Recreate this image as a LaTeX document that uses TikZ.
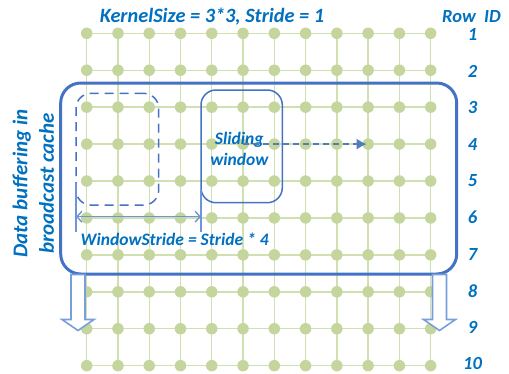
\documentclass[tikz,border=0pt]{standalone}
\usepackage{fontspec}
\setmainfont{Carlito}
\usepackage{xcolor}
\usetikzlibrary{arrows.meta}
\definecolor{txtblue}{RGB}{0,112,192}
\definecolor{boxblue}{RGB}{68,114,196}
\definecolor{lightblue}{RGB}{120,158,220}
\definecolor{slateblue}{RGB}{80,125,190}
\definecolor{gridgreen}{RGB}{196,214,158}
\definecolor{linegreen}{RGB}{208,224,176}

\begin{document}
\begin{tikzpicture}
    [x=1pt,y=-1pt,
    dot/.style = {minimum width=11.5pt,inner sep=0pt,line width=0pt,fill=gridgreen,circle},
    gridline/.style = {linegreen,line width=1.4pt},
    label/.style = {txtblue,font=\fontsize{18.5}{22}\selectfont\bfseries\itshape,inner sep=0pt},
    small/.style = {txtblue,font=\fontsize{17.5}{21}\selectfont\bfseries\itshape,inner sep=0pt,align=center},
    window/.style = {draw=boxblue,line width=1.5pt,rectangle,rounded corners=15pt,inner sep=0pt},
    hollow/.style = {draw=lightblue,fill=white,line width=1.6pt,line join=miter}
    ]
\useasboundingbox (0,0) rectangle (509,373);

% grid points
\foreach \r in {1,...,10}
  \foreach \c in {1,...,12}
    \coordinate (p-\r-\c) at ({86.7+(\c-1)*31.27},{33.3+(\r-1)*36.93});
\foreach \r in {1,...,10}
  \draw[gridline] (p-\r-1) -- (p-\r-12);
\foreach \c in {1,...,12}
  \draw[gridline] (p-1-\c) -- (p-10-\c);
\foreach \r in {1,...,10}
  \foreach \c in {1,...,12}
    \node[dot] (d-\r-\c) at (p-\r-\c) {};

% row numbers
\node[label] (rowid) at (471.5,16.7) {Row\ \ ID};
\foreach \r in {1,...,10}
  \node[label] (row-\r) at ({472.5},{34.5+(\r-1)*36.6}) {\r};

\node[label,font=\fontsize{20.3}{24}\selectfont\bfseries\itshape] (title) at (212,16.7) {KernelSize = 3*3, Stride = 1};

% broadcast cache
\node[draw=boxblue,line width=3pt,rectangle,rounded corners=20pt,minimum width=396pt,minimum height=191pt] (cache) at (258.7,178.5) {};
\node[label,rotate=90,align=center,font=\fontsize{21}{26.5}\selectfont\bfseries\itshape] (cachetext) at (33.3,183.5) {Data buffering in\\broadcast cache};

\node[window,dashed,dash pattern=on 9pt off 6pt,minimum width=82.7pt,minimum height=111.7pt] (oldwin) at (117.35,149.2) {};
\node[window,minimum width=81.3pt,minimum height=112.7pt] (slidewin) at (241.65,146.35) {};
\node[small] (slidetext) at (239.3,148.5) {Sliding\\window};

\draw[slateblue,line width=1.5pt,dash pattern=on 6pt off 4pt,-{Latex[length=10pt,width=11pt]},shorten >=1.5pt] (d-4-6.center) -- (d-4-10.center);

% window stride
\coordinate (ws-a) at (76,183);
\coordinate (ws-b) at (76,232);
\coordinate (ws-c) at (201,190);
\coordinate (ws-d) at (201,232);
\coordinate (ws-l) at (76,216.7);
\coordinate (ws-r) at (201,216.7);
\draw[lightblue!80!boxblue,line width=1.4pt] (ws-a) -- (ws-b) (ws-c) -- (ws-d);
\draw[lightblue!80!boxblue,line width=1.4pt,{Straight Barb[length=5pt,width=11pt]}-{Straight Barb[length=5pt,width=11pt]}] (ws-l) -- (ws-r);
\node[small] (wstext) at (174.7,239.5) {WindowStride = Stride * 4};

% shifting down
\foreach \x/\n in {78/left,439.5/right}
  \draw[hollow] (\x-7,274.5) -- (\x+7,274.5) -- (\x+7,319.5) -- (\x+16,319.5) -- (\x,330.5) -- (\x-16,319.5) -- (\x-7,319.5) -- cycle;

\end{tikzpicture}
\end{document}
